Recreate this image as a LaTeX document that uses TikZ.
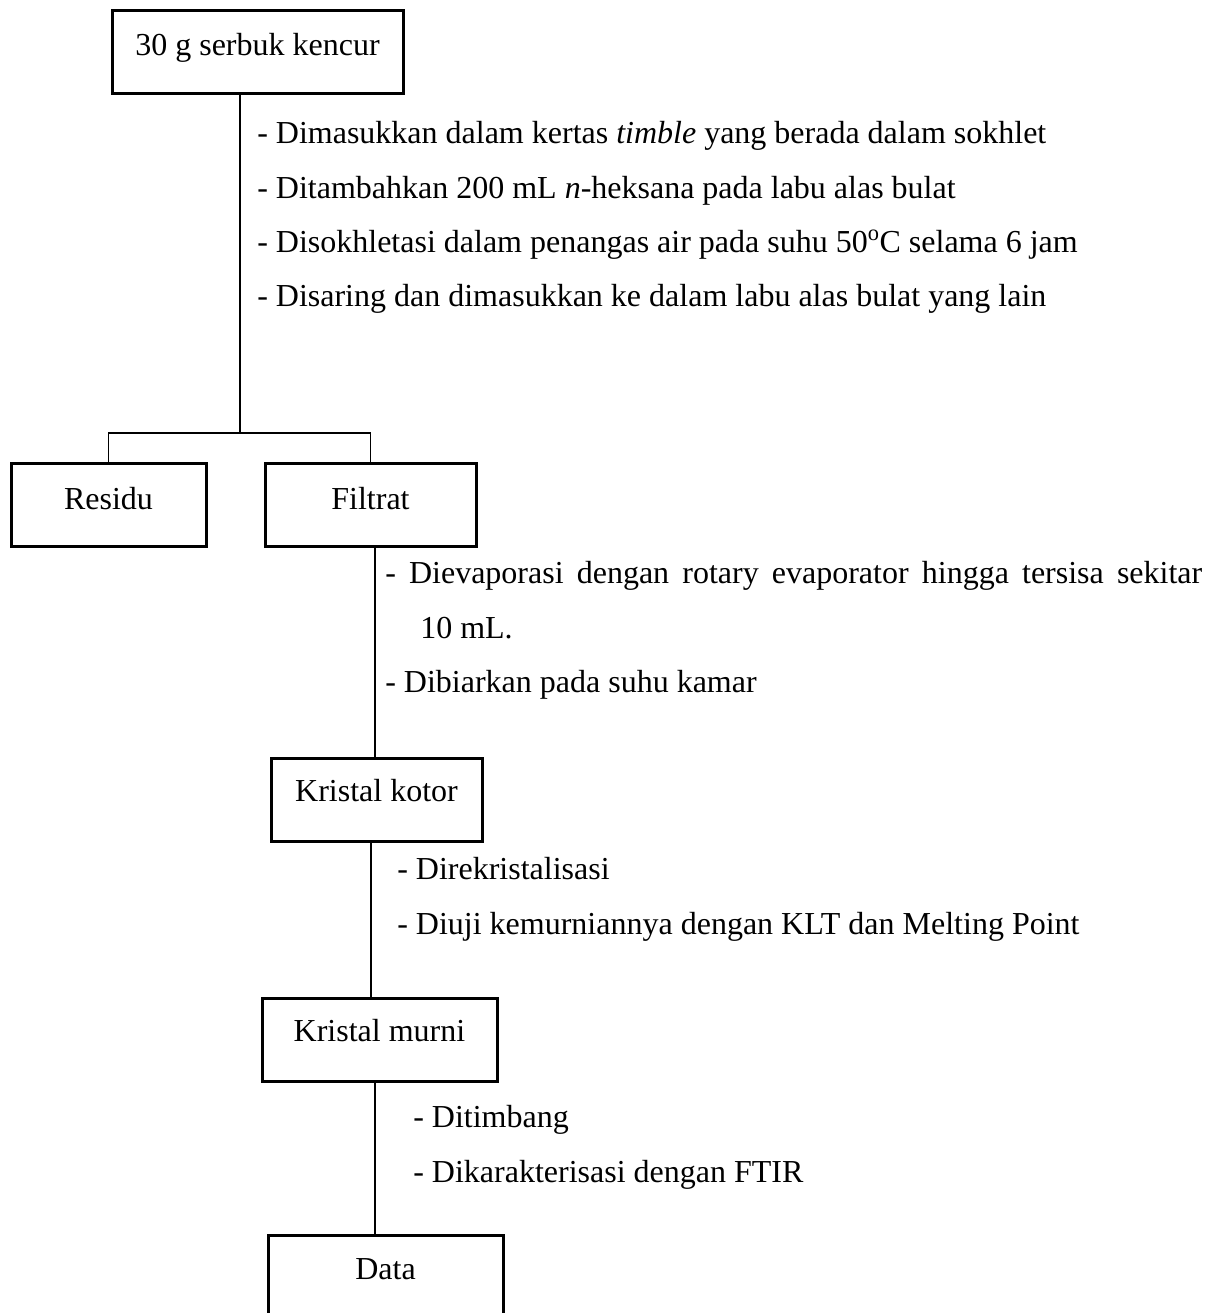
\documentclass[tikz,border=0pt]{standalone}
\usepackage{fontspec}
\setmainfont{Liberation Serif}
\begin{document}
\begin{tikzpicture}[x=0.75pt,y=-0.75pt,
  box/.style={draw, line width=2.25pt, inner xsep=0pt, inner ysep=0pt,
    anchor=north, font=\fontsize{24}{28}\selectfont},
  link/.style={line width=1.1pt},
  note/.style={anchor=mid west, inner sep=0pt, font=\fontsize{24}{28}\selectfont}]
\useasboundingbox (0,0) rectangle (1216,1313);
\clip (0,0) rectangle (1216,1313);

% process boxes
\node[box, minimum width=218.25pt, text height=33.75pt, text depth=28.5pt] (start) at (257.5,9) {30 g serbuk kencur};
\node[box, minimum width=146.25pt, text height=34.5pt, text depth=27.75pt] (residu) at (108.5,462) {Residu};
\node[box, minimum width=158.25pt, text height=34.5pt, text depth=27.75pt] (filtrat) at (370.5,462) {Filtrat};
\node[box, minimum width=158.25pt, text height=32.25pt, text depth=30pt] (kotor) at (376.5,757) {Kristal kotor};
\node[box, minimum width=176.25pt, text height=32.25pt, text depth=30pt] (murni) at (379.5,997) {Kristal murni};
\node[box, minimum width=176.25pt, text height=33pt, text depth=33.75pt] (data) at (385.5,1234) {Data};

% step notes
\node[note] (s1) at (257,140) {- Dimasukkan dalam kertas \textit{timble} yang berada dalam sokhlet};
\node[note] (s2) at (257,195) {- Ditambahkan 200 mL \textit{n}-heksana pada labu alas bulat};
\node[note] (s3) at (257,249) {- Disokhletasi dalam penangas air pada suhu 50\textsuperscript{o}C selama 6 jam};
\node[note] (s4) at (257,303) {- Disaring dan dimasukkan ke dalam labu alas bulat yang lain};

\node[note] (e1) at (385,580) {\makebox[612.75pt][s]{- Dievaporasi dengan rotary evaporator hingga tersisa sekitar}};
\node[note] (e2) at (420,635) {10 mL.};
\node[note] (e3) at (385,689) {- Dibiarkan pada suhu kamar};

\node[note] (r1) at (397,876) {- Direkristalisasi};
\node[note] (r2) at (397,931) {- Diuji kemurniannya dengan KLT dan Melting Point};

\node[note] (c1) at (413,1124) {- Ditimbang};
\node[note] (c2) at (413,1179) {- Dikarakterisasi dengan FTIR};

% connectors
\coordinate (split) at (240,433);
\draw[link] (split |- start.south) -- (split);
\draw[link] (residu.north) |- (split) -| (filtrat.north);
\draw[link] ([xshift=-1.1pt]kotor.north |- filtrat.south) -- ([xshift=-1.1pt]kotor.north);
\draw[link] ([xshift=-4.1pt]kotor.south) -- ([xshift=-4.1pt]kotor.south |- murni.north);
\draw[link] ([xshift=-3.4pt]murni.south) -- ([xshift=-3.4pt]murni.south |- data.north);
\end{tikzpicture}
\end{document}
